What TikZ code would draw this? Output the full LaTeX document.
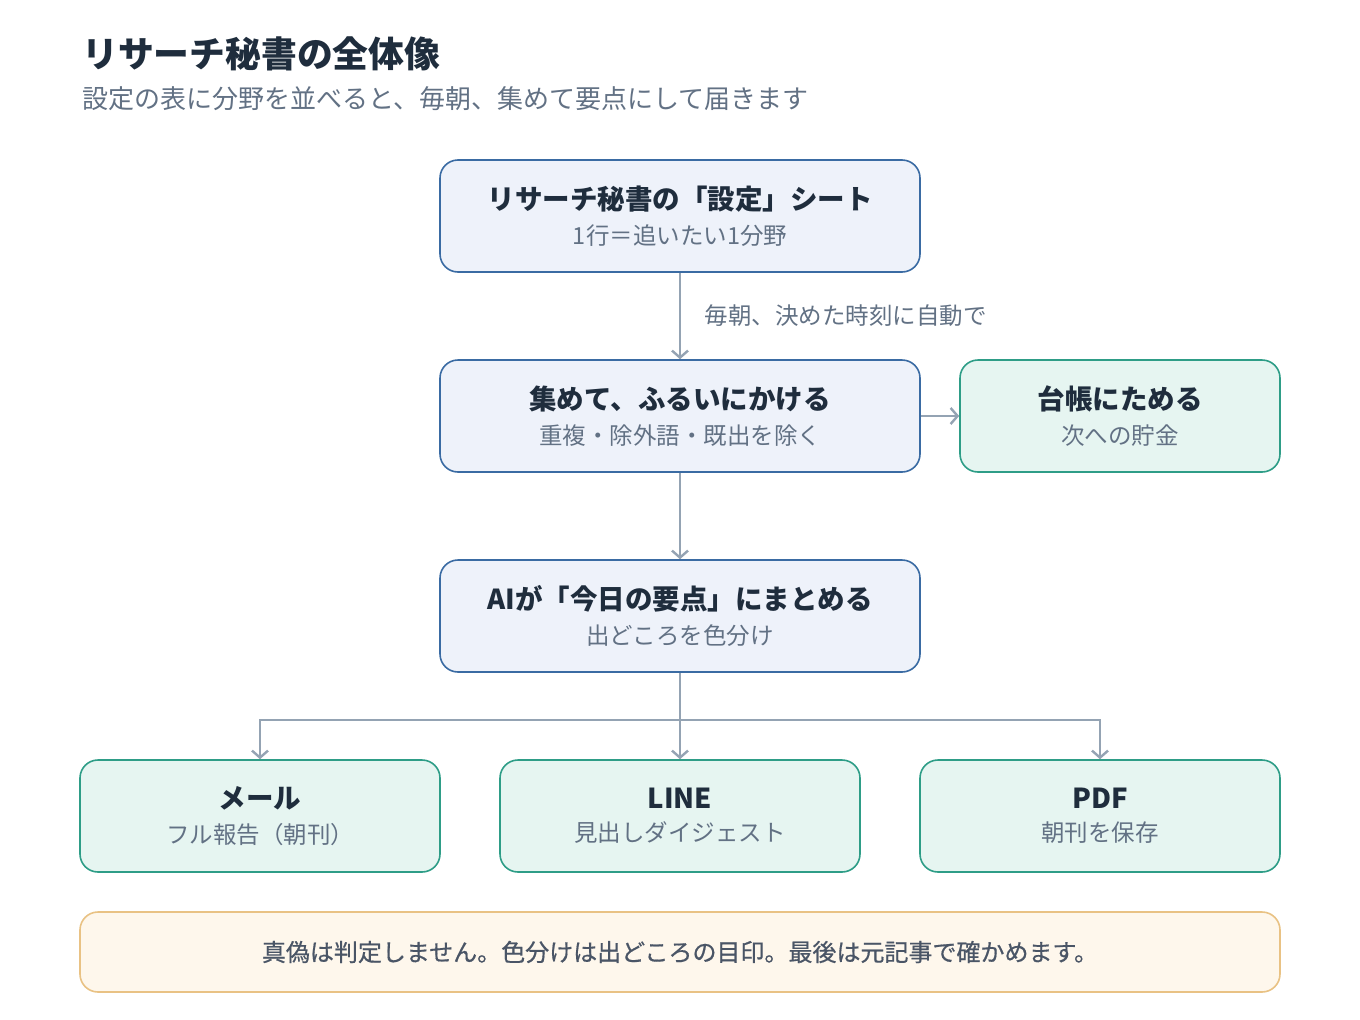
\documentclass[tikz,border=0pt]{standalone}
\usepackage{fontspec}
\setmainfont{Noto Sans CJK JP}
\usetikzlibrary{arrows.meta,positioning}
\definecolor{ink}{HTML}{1F2D3D}
\definecolor{muted}{HTML}{627184}
\definecolor{notetext}{HTML}{4A5566}
\definecolor{bluefill}{HTML}{EEF2FA}
\definecolor{blueline}{HTML}{3A6BA3}
\definecolor{greenfill}{HTML}{E6F5F1}
\definecolor{greenline}{HTML}{2E9D87}
\definecolor{notefill}{HTML}{FEF7EC}
\definecolor{noteline}{HTML}{E9C284}
\definecolor{wire}{HTML}{94A3B3}
\newcommand{\boxtext}[2]{{\fontsize{27.5}{30}\selectfont\bfseries\color{ink}#1}\\[12pt]{\fontsize{23.5}{26}\selectfont\color{muted}#2}}
\tikzset{
  card/.style={rounded corners=18pt, line width=1.6pt, minimum height=112pt, align=center, inner sep=0pt},
  bluecard/.style={card, draw=blueline, fill=bluefill, minimum width=480pt},
  greencard/.style={card, draw=greenline, fill=greenfill, minimum width=320pt},
  outcard/.style={card, draw=greenline, fill=greenfill, minimum width=360pt},
  flow/.style={draw=wire, line width=2.5pt, -{Straight Barb[length=7pt,width=16pt,line width=2.4pt]}},
  wireline/.style={draw=wire, line width=2.5pt}
}
\begin{document}
\begin{tikzpicture}[x=1pt,y=-1pt]
\useasboundingbox[fill=white] (0,0) rectangle (1360,1020);

% heading
\node[anchor=base west, inner sep=0pt, text=ink] (title) at (82,67)
  {\fontsize{35.8}{40}\selectfont\bfseries リサーチ秘書の全体像};
\node[anchor=base west, inner sep=0pt, text=muted] (subtitle) at (82,108)
  {\fontsize{26}{30}\selectfont 設定の表に分野を並べると、毎朝、集めて要点にして届きます};

% main column
\node[bluecard] (sheet) at (680,216) {\boxtext{リサーチ秘書の「設定」シート}{1行＝追いたい1分野}};
\node[bluecard] (sift) at (680,416) {\boxtext{集めて、ふるいにかける}{重複・除外語・既出を除く}};
\node[greencard] (ledger) at (1120,416) {\boxtext{台帳にためる}{次への貯金}};
\node[bluecard] (ai) at (680,616) {\boxtext{AIが「今日の要点」にまとめる}{出どころを色分け}};

% outputs
\node[outcard] (mail) at (260,816) {\boxtext{メール}{フル報告（朝刊）}};
\node[outcard] (line) at (680,816) {\boxtext{LINE}{見出しダイジェスト}};
\node[outcard] (pdf) at (1100,816) {\boxtext{PDF}{朝刊を保存}};

% note
\node[rounded corners=18pt, line width=1.6pt, draw=noteline, fill=notefill,
      minimum width=1200pt, minimum height=80pt, inner sep=0pt] (note) at (680,952)
  {\fontsize{24}{28}\selectfont\addfontfeature{FakeBold=0.6}\color{notetext} 真偽は判定しません。色分けは出どころの目印。最後は元記事で確かめます。};

% connectors
\draw[flow] (sheet) -- node[right=20pt, text=muted, font=\fontsize{23.5}{26}\selectfont] (sched) {毎朝、決めた時刻に自動で} (sift);
\draw[flow] (sift) -- (ledger);
\draw[flow] (sift) -- (ai);
\coordinate (fork) at (680,720);
\draw[wireline] (ai.south) -- (fork);
\draw[flow] (fork) -| (mail.north);
\draw[flow] (fork) -| (pdf.north);
\draw[flow] (fork) -- (line.north);
\end{tikzpicture}
\end{document}
